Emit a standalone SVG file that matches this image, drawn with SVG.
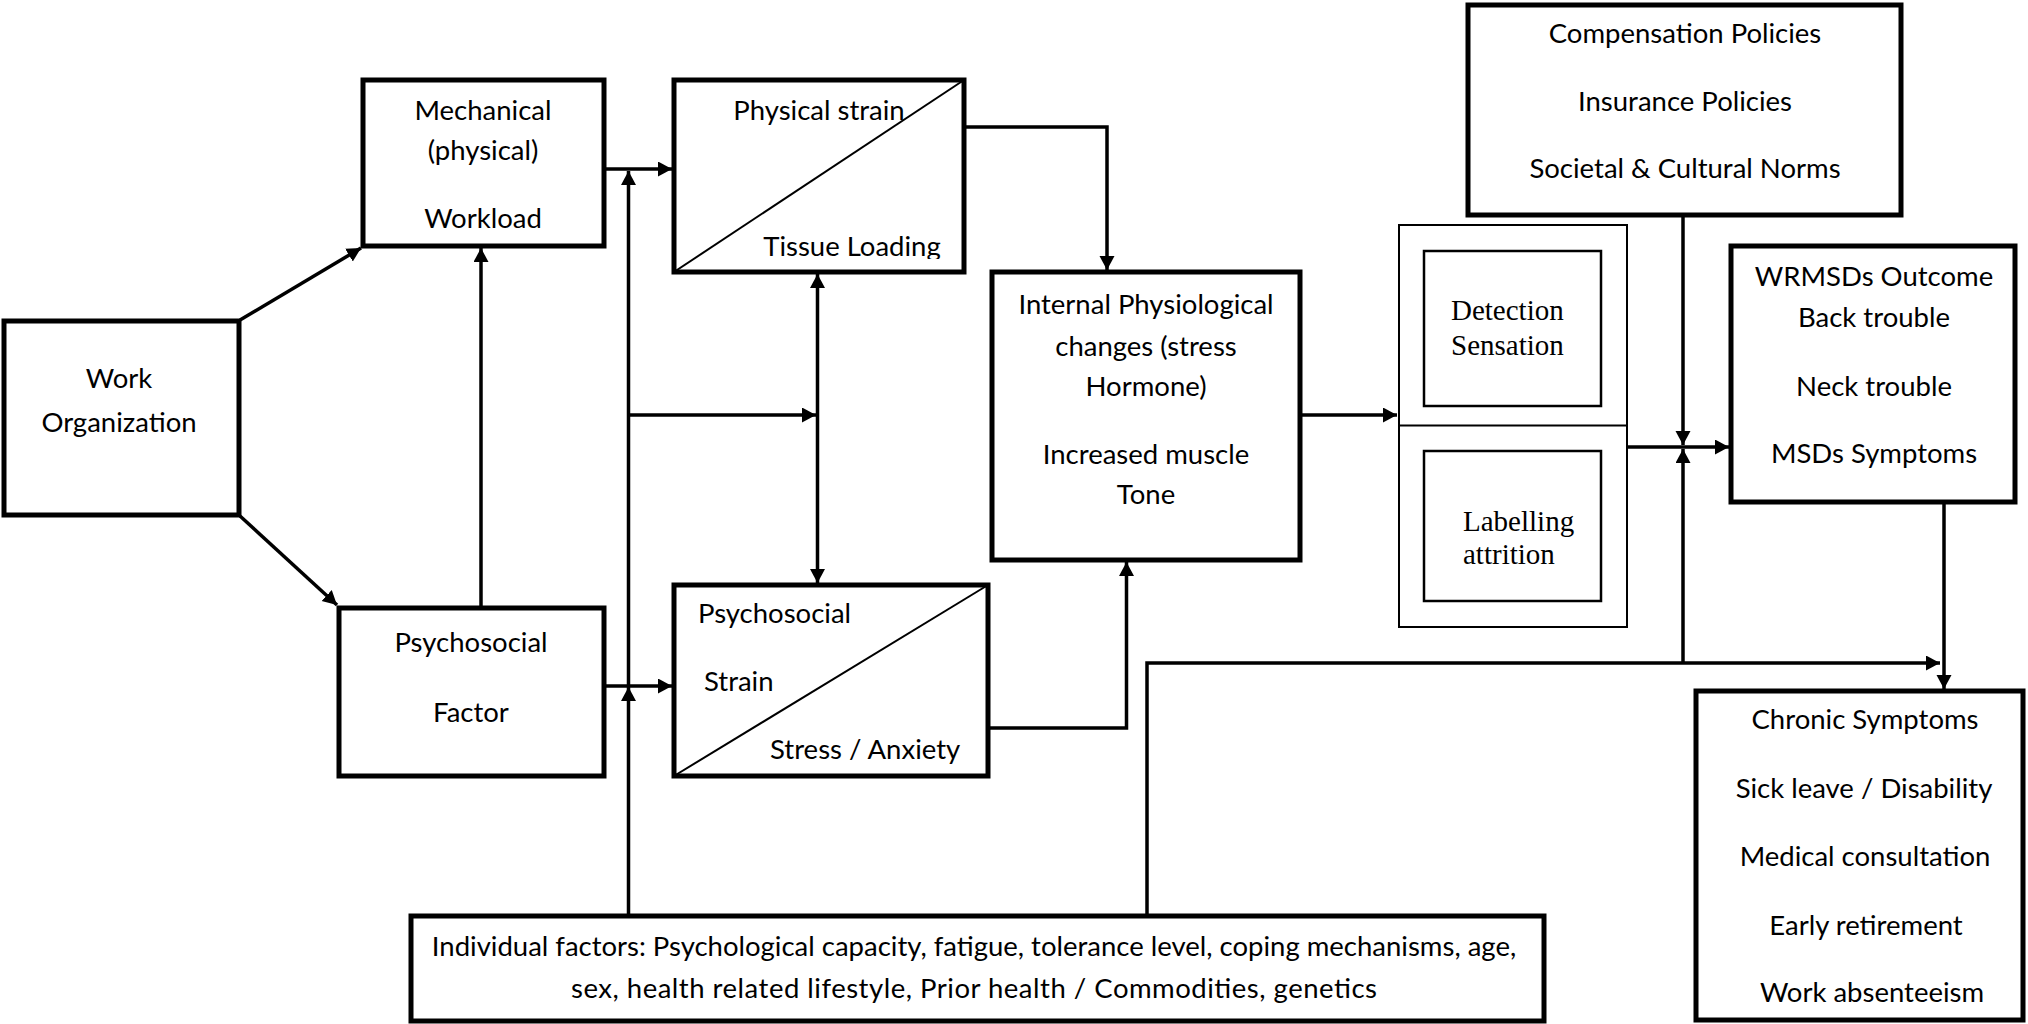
<svg xmlns="http://www.w3.org/2000/svg" width="2028" height="1024" viewBox="0 0 2028 1024">
  <style>
    .box { fill: #fff; stroke: #000; stroke-width: 5; }
    .thin { fill: #fff; stroke: #000; stroke-width: 2; }
    .inner { fill: #fff; stroke: #000; stroke-width: 2.5; }
    .diag { stroke: #000; stroke-width: 2; fill: none; }
    .lbl { font-family: Lato, "Liberation Sans", sans-serif; font-size: 27.5px; fill: #000; }
    .mid { text-anchor: middle; }
    .serif { font-family: "Liberation Serif", "Times New Roman", serif; font-size: 29px; fill: #000; }
    .conn path { fill: none; stroke: #000; stroke-width: 3.5; }
  </style>
  <defs>
    <marker id="arrow" markerUnits="userSpaceOnUse" markerWidth="16" markerHeight="16" refX="14" refY="7.5" orient="auto-start-reverse">
      <path d="M0,0 L14,7.5 L0,15 Z" fill="#000"/>
    </marker>
    <!-- the lower label is cut just under its baseline -->
    <clipPath id="tissue-clip">
      <rect x="674" y="80" width="290" height="179"/>
    </clipPath>
  </defs>
  <rect width="2028" height="1024" fill="#fff"/>

  <!-- connectors -->
  <g id="connectors" class="conn">
    <path d="M240,320 L361,248" marker-end="url(#arrow)"/>
    <path d="M240,516 L337,605" marker-end="url(#arrow)"/>
    <path d="M481,608 L481,248" marker-end="url(#arrow)"/>
    <path d="M604,169 L672,169" marker-end="url(#arrow)"/>
    <path d="M628.5,916 L628.5,687" marker-end="url(#arrow)"/>
    <path d="M628.5,687 L628.5,171" marker-end="url(#arrow)"/>
    <path d="M604,686 L672,686" marker-end="url(#arrow)"/>
    <path d="M628.5,415 L816,415" marker-end="url(#arrow)"/>
    <path d="M817.5,274 L817.5,583" marker-start="url(#arrow)" marker-end="url(#arrow)"/>
    <path d="M964,127 L1107,127 L1107,270" marker-end="url(#arrow)"/>
    <path d="M988,728 L1126.5,728 L1126.5,562" marker-end="url(#arrow)"/>
    <path d="M1300,415 L1397,415" marker-end="url(#arrow)"/>
    <path d="M1627,447 L1729,447" marker-end="url(#arrow)"/>
    <path d="M1683,215 L1683,445" marker-end="url(#arrow)"/>
    <path d="M1147,916 L1147,663 L1940,663" marker-end="url(#arrow)"/>
    <path d="M1683,663 L1683,449" marker-end="url(#arrow)"/>
    <path d="M1944,502 L1944,689" marker-end="url(#arrow)"/>
  </g>

  <!-- nodes -->
  <g id="work-organization">
    <rect class="box" x="4" y="321" width="235" height="194"/>
    <text class="lbl mid" x="119" y="388">Work</text>
    <text class="lbl mid" x="119" y="432">Organization</text>
  </g>

  <g id="mechanical-workload">
    <rect class="box" x="363" y="80" width="241" height="166"/>
    <text class="lbl mid" x="483" y="120">Mechanical</text>
    <text class="lbl mid" x="483" y="160">(physical)</text>
    <text class="lbl mid" x="483" y="228">Workload</text>
  </g>

  <g id="physical-strain">
    <rect class="box" x="674" y="80" width="290" height="192"/>
    <path class="diag" d="M674,272 L964,80"/>
    <text class="lbl mid" x="819" y="120">Physical strain</text>
    <text class="lbl mid" x="852" y="256" clip-path="url(#tissue-clip)">Tissue Loading</text>
  </g>

  <g id="internal-physiological">
    <rect class="box" x="992" y="272" width="308" height="288"/>
    <text class="lbl mid" x="1146" y="314">Internal Physiological</text>
    <text class="lbl mid" x="1146" y="356">changes (stress</text>
    <text class="lbl mid" x="1146" y="396">Hormone)</text>
    <text class="lbl mid" x="1146" y="464">Increased muscle</text>
    <text class="lbl mid" x="1146" y="504">Tone</text>
  </g>

  <g id="psychosocial-factor">
    <rect class="box" x="339" y="608" width="265" height="168"/>
    <text class="lbl mid" x="471" y="652">Psychosocial</text>
    <text class="lbl mid" x="471" y="722">Factor</text>
  </g>

  <g id="psychosocial-strain">
    <rect class="box" x="674" y="585" width="314" height="191"/>
    <path class="diag" d="M674,776 L988,585"/>
    <text class="lbl" x="698" y="623">Psychosocial</text>
    <text class="lbl" x="704" y="691">Strain</text>
    <text class="lbl" x="770" y="759">Stress / Anxiety</text>
  </g>

  <g id="detection-labelling">
    <rect class="thin" x="1399" y="225" width="228" height="402"/>
    <path class="diag" d="M1399,425.5 L1627,425.5"/>
    <rect class="inner" x="1424" y="251" width="177" height="155"/>
    <text class="serif" x="1451" y="320">Detection</text>
    <text class="serif" x="1451" y="355">Sensation</text>
    <rect class="inner" x="1424" y="451" width="177" height="150"/>
    <text class="serif" x="1463" y="531">Labelling</text>
    <text class="serif" x="1463" y="564">attrition</text>
  </g>

  <g id="policies-norms">
    <rect class="box" x="1468" y="5" width="433" height="210"/>
    <text class="lbl mid" x="1685" y="43">Compensation Policies</text>
    <text class="lbl mid" x="1685" y="111">Insurance Policies</text>
    <text class="lbl mid" x="1685" y="178">Societal &amp; Cultural Norms</text>
  </g>

  <g id="wrmsds-outcome">
    <rect class="box" x="1731" y="246" width="284" height="256"/>
    <text class="lbl mid" x="1874" y="286">WRMSDs Outcome</text>
    <text class="lbl mid" x="1874" y="327">Back trouble</text>
    <text class="lbl mid" x="1874" y="396">Neck trouble</text>
    <text class="lbl mid" x="1874" y="463">MSDs Symptoms</text>
  </g>

  <g id="chronic-outcomes">
    <rect class="box" x="1696" y="691" width="327" height="329"/>
    <text class="lbl mid" x="1865" y="729">Chronic Symptoms</text>
    <text class="lbl mid" x="1864" y="798">Sick leave / Disability</text>
    <text class="lbl mid" x="1865" y="866">Medical consultation</text>
    <text class="lbl mid" x="1866" y="935">Early retirement</text>
    <text class="lbl mid" x="1872" y="1002">Work absenteeism</text>
  </g>

  <g id="individual-factors">
    <rect class="box" x="411" y="916" width="1133" height="105"/>
    <text class="lbl mid" x="974" y="956">Individual factors: Psychological capacity, fatigue, tolerance level, coping mechanisms, age,</text>
    <text class="lbl mid" x="974" y="998" textLength="806" lengthAdjust="spacing">sex, health related lifestyle, Prior health / Commodities, genetics</text>
  </g>
</svg>
